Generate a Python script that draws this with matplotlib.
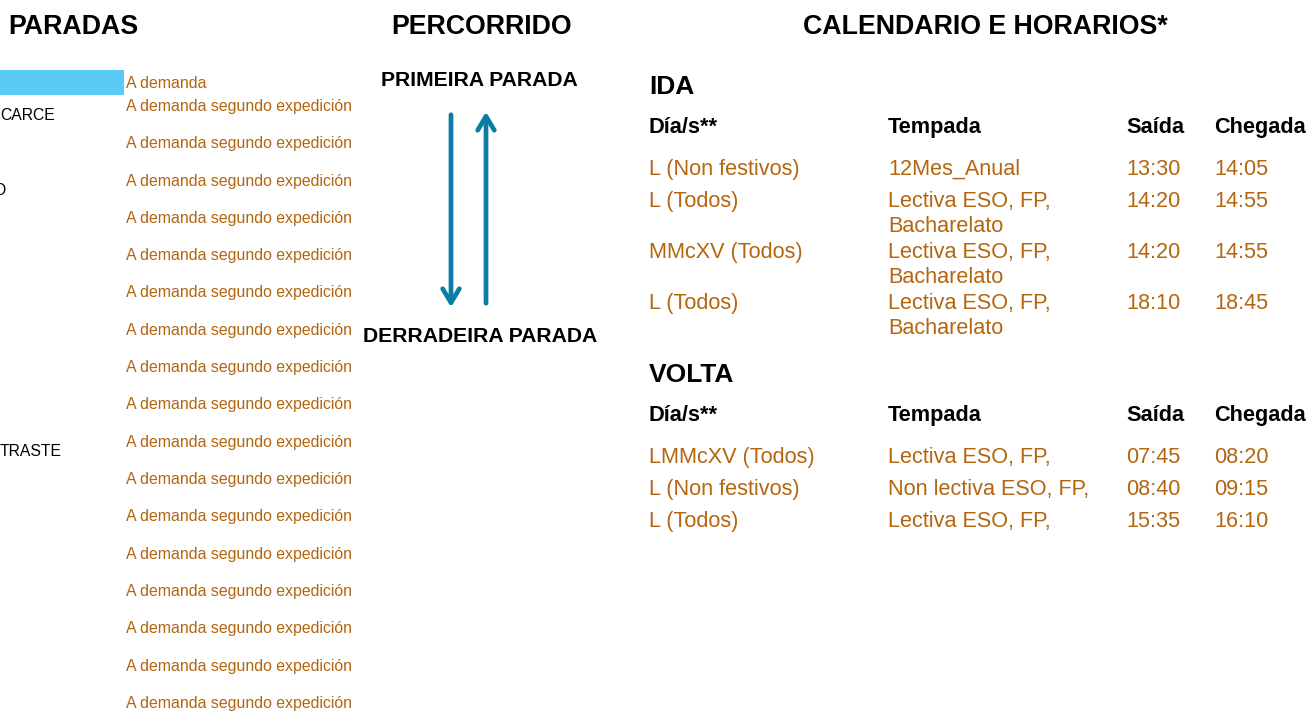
import matplotlib.pyplot as plt
from matplotlib.patches import Rectangle

plt.rcParams['font.family'] = ['Liberation Sans', 'DejaVu Sans']

# --- data ---
headers = ["PARADAS", "PERCORRIDO", "CALENDARIO E HORARIOS*"]
stop_names = ["", "CARCE", "", "O", "", "", "", "", "", "", "TRASTE"]
demand_notes = ["A demanda"] + ["A demanda segundo expedición"] * 17
first_stop = "PRIMEIRA PARADA"
last_stop = "DERRADEIRA PARADA"

table_cols = ["Día/s**", "Tempada", "Saída", "Chegada"]
ida_days = ["L (Non festivos)", "L (Todos)", "MMcXV (Todos)", "L (Todos)"]
ida_season = ["12Mes_Anual", "Lectiva ESO, FP,\nBacharelato",
              "Lectiva ESO, FP,\nBacharelato", "Lectiva ESO, FP,\nBacharelato"]
ida_dep = ["13:30", "14:20", "14:20", "18:10"]
ida_arr = ["14:05", "14:55", "14:55", "18:45"]

volta_days = ["LMMcXV (Todos)", "L (Non festivos)", "L (Todos)"]
volta_season = ["Lectiva ESO, FP,", "Non lectiva ESO, FP,", "Lectiva ESO, FP,"]
volta_dep = ["07:45", "08:40", "15:35"]
volta_arr = ["08:20", "09:15", "16:10"]

orange = '#B4650E'
blue = '#0A7CA6'
VA = 'center_baseline'

fig = plt.figure(figsize=(13.07, 7.18), dpi=100)
ax = fig.add_axes([0, 0, 1, 1])
ax.set_xlim(0, 1307)
ax.set_ylim(718, 0)
ax.axis('off')

# section headers
for x, h in zip([73, 482, 985], headers):
    ax.text(x, 24, h, ha='center', va=VA, fontsize=19.3, fontweight='bold')

# --- PARADAS ---
ax.add_patch(Rectangle((0, 70), 124, 25, color='#5BCBF5', lw=0))
row_h = 37.3
for i, name in enumerate(stop_names):
    if name == "O":
        ax.text(5, 77 + i * row_h, name, ha='right', va=VA, fontsize=11.3)
    elif name:
        ax.text(0, 77 + i * row_h, name, ha='left', va=VA, fontsize=11.3)
for i, note in enumerate(demand_notes):
    y = 82 if i == 0 else 105 + (i - 1) * row_h
    ax.text(126, y, note, ha='left', va=VA, fontsize=11.4, color=orange)

# --- PERCORRIDO ---
ax.text(479, 78, first_stop, ha='center', va=VA, fontsize=15.2, fontweight='bold')
ax.text(480, 334, last_stop, ha='center', va=VA, fontsize=15.2, fontweight='bold')
ax.annotate('', xy=(451, 310), xytext=(451, 112),
            arrowprops=dict(arrowstyle='->,head_length=1.0,head_width=0.6', color=blue, lw=3.4))
ax.annotate('', xy=(486, 109), xytext=(486, 306),
            arrowprops=dict(arrowstyle='->,head_length=1.0,head_width=0.6', color=blue, lw=3.4))

# --- CALENDARIO ---
col_x = [649, 888, 1126, 1214]


def draw_table(title, title_y, head_y, row_ys, days, season, dep, arr):
    ax.text(col_x[0], title_y, title, ha='left', va=VA, fontsize=19, fontweight='bold')
    for x, c in zip(col_x, table_cols):
        ax.text(x, head_y, c, ha='left', va=VA, fontsize=15.7, fontweight='bold')
    for y, d, s, a, b in zip(row_ys, days, season, dep, arr):
        for x, t in zip(col_x, [d, s, a, b]):
            for k, line in enumerate(t.split('\n')):
                ax.text(x, y + 25 * k, line, ha='left', va=VA, fontsize=15.6,
                        color=orange)


draw_table("IDA", 85, 125, [167, 199, 250, 301], ida_days, ida_season, ida_dep, ida_arr)
draw_table("VOLTA", 373, 413, [455, 487, 519], volta_days, volta_season, volta_dep, volta_arr)

fig.savefig('out.png', dpi=100)
